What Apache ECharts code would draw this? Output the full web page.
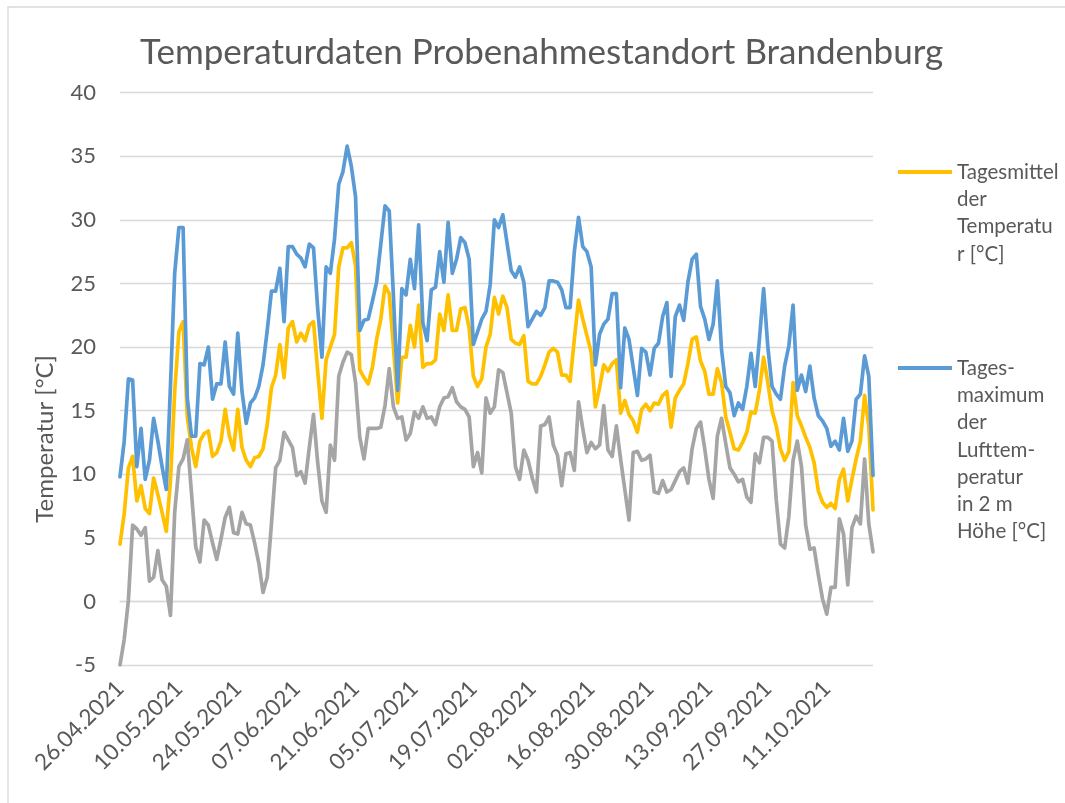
<!DOCTYPE html>
<html>
<head>
<meta charset="utf-8">
<script src="https://cdn.jsdelivr.net/npm/echarts@6/dist/echarts.min.js"></script>
<style>
  html, body { margin: 0; padding: 0; background: #fff; }
  #chart { width: 1065px; height: 803px; }
</style>
</head>
<body>
<div id="chart"></div>
<script>
// Kategorien: Tagesdaten ab 26.04.2021 (180 Tage)
var startDate = new Date(2021, 3, 26);
var dayCount = 180;

// Tagesmittel der Temperatur [°C]
var meanTemp = [
  4.5, 6.9, 10.5, 11.4, 7.9, 9.1, 7.3, 6.9, 9.7, 8.4,
  7.0, 5.5, 9.5, 16.5, 21.2, 22.0, 14.5, 12.1, 10.6, 12.6,
  13.2, 13.4, 11.4, 11.7, 12.6, 15.1, 13.0, 11.9, 15.1, 12.1,
  11.1, 10.6, 11.3, 11.4, 12.0, 13.9, 16.8, 17.8, 20.2, 17.6,
  21.5, 22.0, 20.4, 21.1, 20.5, 21.7, 22.0, 18.1, 14.4, 19.0,
  20.0, 21.0, 26.3, 27.8, 27.8, 28.2, 26.4, 18.2, 17.6, 17.1,
  18.4, 20.6, 22.2, 24.8, 24.2, 20.0, 15.6, 19.2, 19.2, 21.7,
  20.0, 23.3, 18.4, 18.7, 18.7, 19.0, 22.6, 21.3, 24.1, 21.3,
  21.3, 23.0, 23.1, 21.5, 17.7, 16.9, 17.5, 20.0, 21.0, 23.9,
  22.6, 24.0, 23.1, 20.6, 20.3, 20.2, 20.9, 17.3, 17.1, 17.1,
  17.7, 18.6, 19.6, 19.9, 19.6, 17.8, 17.8, 17.3, 20.6, 23.7,
  22.2, 20.9, 19.6, 15.3, 16.8, 18.6, 18.1, 18.7, 19.0, 14.8,
  15.8, 14.7, 14.2, 13.3, 15.1, 15.5, 15.0, 15.6, 15.5, 16.2,
  16.5, 13.7, 16.0, 16.6, 17.1, 18.7, 20.6, 20.8, 18.9, 18.1,
  16.3, 16.3, 18.3, 17.2, 14.5, 13.3, 12.0, 11.9, 12.5, 13.3,
  14.9, 14.8, 16.6, 19.2, 17.2, 15.0, 13.8, 12.0, 11.1, 11.8,
  17.2, 14.6, 13.8, 12.9, 12.1, 10.9, 8.7, 7.8, 7.4, 7.7,
  7.3, 9.6, 10.4, 7.9, 9.6, 11.2, 12.6, 16.2, 13.8, 7.2
];

// Tagesmaximum der Lufttemperatur in 2 m Höhe [°C]
var maxTemp = [
  9.8, 12.6, 17.5, 17.4, 10.6, 13.6, 9.6, 11.1, 14.4, 12.6,
  10.6, 8.8, 17.0, 25.8, 29.4, 29.4, 16.0, 13.0, 13.0, 18.7,
  18.6, 20.0, 15.9, 17.1, 17.1, 20.4, 16.9, 16.3, 21.1, 16.5,
  14.0, 15.6, 16.0, 16.9, 18.6, 21.3, 24.4, 24.4, 26.2, 22.0,
  27.9, 27.9, 27.3, 27.0, 26.3, 28.1, 27.8, 23.0, 19.2, 26.3,
  25.8, 28.5, 32.8, 33.8, 35.8, 34.2, 31.8, 21.3, 22.1, 22.2,
  23.6, 25.1, 28.1, 31.1, 30.7, 24.0, 16.6, 24.6, 24.1, 26.9,
  24.6, 29.6, 21.9, 20.5, 24.5, 24.7, 27.5, 25.1, 29.8, 25.8,
  26.9, 28.6, 28.2, 26.9, 20.2, 21.2, 22.2, 22.8, 24.9, 30.0,
  29.4, 30.4, 28.2, 26.0, 25.5, 26.3, 25.1, 21.6, 22.2, 22.8,
  22.5, 23.1, 25.2, 25.2, 25.1, 24.5, 23.1, 23.1, 27.5, 30.2,
  27.9, 27.5, 26.3, 18.6, 21.0, 21.8, 22.2, 24.2, 24.2, 16.8,
  21.5, 20.6, 18.4, 16.2, 19.9, 19.6, 17.8, 19.9, 20.3, 22.4,
  23.5, 17.7, 22.4, 23.3, 22.1, 25.1, 26.9, 27.3, 23.2, 22.2,
  20.6, 21.8, 25.2, 19.8, 16.9, 16.4, 14.6, 15.6, 15.1, 16.9,
  19.5, 16.9, 20.6, 24.6, 20.0, 16.9, 16.3, 15.9, 18.5, 20.1,
  23.3, 16.6, 17.8, 16.5, 18.5, 16.0, 14.6, 14.2, 13.6, 12.2,
  12.6, 11.9, 14.4, 11.8, 12.6, 15.9, 16.3, 19.3, 17.7, 9.9
];

// Tagesminimum (ohne Legendeneintrag)
var minTemp = [
  -5.0, -3.0, 0.1, 6.0, 5.7, 5.2, 5.8, 1.6, 1.9, 4.0,
  1.7, 1.2, -1.1, 7.0, 10.6, 11.2, 12.7, 8.5, 4.3, 3.1,
  6.4, 6.0, 4.6, 3.3, 4.9, 6.6, 7.4, 5.4, 5.3, 7.0,
  6.1, 6.0, 4.6, 3.0, 0.7, 1.9, 6.1, 10.5, 11.1, 13.3,
  12.7, 12.1, 9.9, 10.2, 9.3, 12.1, 14.7, 10.9, 7.9, 7.0,
  12.3, 11.1, 17.7, 18.8, 19.6, 19.4, 17.2, 12.9, 11.2, 13.6,
  13.6, 13.6, 13.7, 15.4, 18.3, 15.3, 14.4, 14.5, 12.7, 13.2,
  14.9, 14.4, 15.3, 14.4, 14.5, 13.9, 15.3, 16.0, 16.1, 16.8,
  15.7, 15.3, 15.1, 14.5, 10.6, 11.7, 10.1, 16.0, 14.8, 15.3,
  18.2, 18.0, 16.4, 14.8, 10.6, 9.6, 11.9, 11.1, 9.7, 8.6,
  13.8, 13.9, 14.5, 12.3, 11.5, 9.1, 11.6, 11.7, 10.3, 15.7,
  13.6, 11.7, 12.5, 12.0, 12.3, 15.4, 11.9, 11.4, 13.8, 11.2,
  8.8, 6.4, 11.7, 11.8, 11.1, 11.2, 11.5, 8.6, 8.5, 9.5,
  8.6, 8.8, 9.5, 10.2, 10.5, 9.3, 12.0, 13.6, 14.1, 12.0,
  9.6, 8.1, 13.0, 14.4, 12.4, 10.5, 10.0, 9.4, 9.6, 8.2,
  7.8, 11.6, 10.9, 12.9, 12.9, 12.6, 8.0, 4.5, 4.2, 6.7,
  11.1, 12.6, 10.6, 6.0, 4.1, 4.2, 2.1, 0.2, -1.0, 1.1,
  1.1, 6.5, 5.3, 1.3, 5.8, 6.7, 6.1, 11.2, 6.1, 3.9
];

var seriesNames = [
  'Tagesmittel der Temperatur [°C]',
  'Tagesmaximum der Lufttemperatur in 2 m Höhe [°C]',
  'Tagesminimum der Lufttemperatur in 2 m Höhe [°C]'
];
// Zeilenumbrüche wie im Original-Diagramm
var legendLines = [
  ['Tagesmittel', 'der', 'Temperatu', 'r [°C]'],
  ['Tages-', 'maximum', 'der', 'Lufttem-', 'peratur', 'in 2 m', 'Höhe [°C]']
];

function pad2(n) { return n < 10 ? '0' + n : '' + n; }

var dates = [];
for (var i = 0; i < dayCount; i++) {
  var d = new Date(startDate.getFullYear(), startDate.getMonth(), startDate.getDate() + i);
  dates.push(pad2(d.getDate()) + '.' + pad2(d.getMonth() + 1) + '.' + d.getFullYear());
}

var FONT = 'Lato';
var TEXT_COLOR = '#595959';
var LEGEND_LINE_H = 27.3;

// Legende: Symbol auf Höhe der ersten Textzeile
// (Leerzeilen oberhalb, damit der zentrierte Textblock mit Zeile 1 beim Symbol liegt)
function buildLegend(idx, iconY) {
  var lines = legendLines[idx];
  var n = lines.length;
  var blank = new Array(n).join('\n');
  var boxH = (2 * n - 1) * LEGEND_LINE_H;
  return {
    data: [{ name: seriesNames[idx], icon: 'rect' }],
    orient: 'vertical',
    left: 898,
    top: iconY - boxH / 2,
    padding: 0,
    itemWidth: 54,
    itemHeight: 4,
    formatter: function() { return blank + lines.join('\n'); },
    textStyle: {
      fontFamily: FONT,
      fontSize: 20.5,
      lineHeight: LEGEND_LINE_H,
      color: TEXT_COLOR
    }
  };
}

function buildSeries(name, values, color, z) {
  return {
    name: name,
    type: 'line',
    data: values,
    symbol: 'none',
    z: z,
    lineStyle: { color: color, width: 3.7, cap: 'round', join: 'round' },
    itemStyle: { color: color }
  };
}

var chart = echarts.init(document.getElementById('chart'), null, { renderer: 'canvas' });

var option = {
  animation: false,
  backgroundColor: '#fff',
  textStyle: { fontFamily: FONT },
  title: {
    text: 'Temperaturdaten Probenahmestandort Brandenburg',
    left: 135,
    top: 30,
    textStyle: { fontFamily: FONT, fontSize: 35, fontWeight: 'normal', color: TEXT_COLOR }
  },
  graphic: [{
    type: 'rect',
    shape: { x: 8, y: 7, width: 1100, height: 900 },
    style: { fill: null, stroke: '#D9D9D9', lineWidth: 1.3 },
    silent: true
  }],
  legend: [buildLegend(0, 172), buildLegend(1, 368)],
  grid: {
    left: 120,
    right: 192,
    top: 92.7,
    bottom: 138,
    outerBoundsMode: 'none'
  },
  xAxis: {
    type: 'category',
    data: dates,
    boundaryGap: false,
    axisTick: { show: false },
    axisLine: { show: true, lineStyle: { color: '#D9D9D9', width: 1.3 } },
    axisLabel: {
      interval: 13,
      rotate: 45,
      margin: 20,
      padding: [14, 0, 0, 0],
      fontFamily: FONT,
      fontSize: 22.5,
      color: TEXT_COLOR
    },
    splitLine: { show: false }
  },
  yAxis: {
    type: 'value',
    min: -5,
    max: 40,
    interval: 5,
    name: 'Temperatur [°C]',
    nameLocation: 'middle',
    nameGap: 63,
    nameTextStyle: {
      fontFamily: FONT,
      fontSize: 24,
      color: TEXT_COLOR,
      // Titel wie im Original etwas unterhalb der Mitte
      padding: [0, 120, 0, 0]
    },
    axisLine: { show: false },
    axisTick: { show: false },
    axisLabel: { margin: 24, fontFamily: FONT, fontSize: 22, color: TEXT_COLOR },
    splitLine: { lineStyle: { color: '#D9D9D9', width: 1.3 } }
  },
  series: [
    buildSeries(seriesNames[0], meanTemp, '#FFC000', 2),
    buildSeries(seriesNames[1], maxTemp, '#5B9BD5', 3),
    buildSeries(seriesNames[2], minTemp, '#A5A5A5', 4)
  ]
};

chart.setOption(option);
</script>
</body>
</html>
